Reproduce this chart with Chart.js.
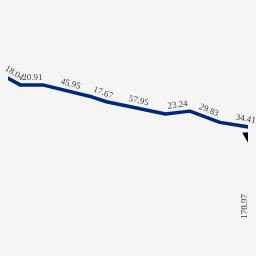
<!DOCTYPE html>
<html>
<head>
<meta charset="utf-8">
<script src="https://cdn.jsdelivr.net/npm/chart.js@4/dist/chart.umd.min.js"></script>
<style>
  html, body { margin: 0; padding: 0; background: #f5f5f5; }
  canvas { display: block; }
</style>
</head>
<body>
<canvas id="routeChart" width="256" height="256"></canvas>
<script>
// route vertices
const routeX = [-10, 13, 37, 90, 105, 168, 194, 226, 276];
const routeY = [69.5, 82, 82, 95, 100, 113, 110, 122, 130];
// one label per segment
const segmentLabels = ["18.04", "20.91", "45.95", "17.67", "57.95", "23.24", "29.83", "34.41"];

// end marker
const markerX = [257];
const markerY = [137];
const markerLabels = ["170.97"];

const segmentLabelPlugin = {
  id: "segmentLabels",
  afterDatasetsDraw(chart) {
    const ctx = chart.ctx;
    ctx.save();
    ctx.font = "9px 'Liberation Serif', serif";
    ctx.fillStyle = "#3a3a3a";
    ctx.textAlign = "center";
    ctx.textBaseline = "bottom";

    const pts = chart.getDatasetMeta(0).data;
    for (let i = 0; i < pts.length - 1; i++) {
      const a = pts[i], b = pts[i + 1];
      const mx = (a.x + b.x) / 2, my = (a.y + b.y) / 2;
      ctx.save();
      ctx.translate(mx, my);
      ctx.rotate(Math.atan2(b.y - a.y, b.x - a.x) * 1.15);
      ctx.fillText(segmentLabels[i], 1, -3);
      ctx.restore();
    }

    const marks = chart.getDatasetMeta(1).data;
    marks.forEach((p, i) => {
      ctx.save();
      ctx.translate(p.x - 4, p.y + 70);
      ctx.rotate(-Math.PI / 2);
      ctx.textBaseline = "middle";
      ctx.fillText(markerLabels[i], 0, 0);
      ctx.restore();
    });
    ctx.restore();
  }
};

const ctx = document.getElementById("routeChart").getContext("2d");
const routeChart = new Chart(ctx, {
  type: "line",
  data: {
    datasets: [
      {
        data: routeX.map((x, i) => ({ x: x, y: routeY[i] })),
        borderColor: "#00287a",
        borderWidth: 3.5,
        borderJoinStyle: "round",
        pointRadius: 0,
        tension: 0,
        fill: false,
      },
      {
        data: markerX.map((x, i) => ({ x: x, y: markerY[i] })),
        showLine: false,
        pointStyle: "triangle",
        rotation: 180,
        pointRadius: 7,
        backgroundColor: "#000",
        borderColor: "#000",
        borderWidth: 1,
      },
    ],
  },
  options: {
    responsive: false,
    animation: false,
    layout: { padding: 0 },
    plugins: { legend: { display: false }, tooltip: { enabled: false } },
    scales: {
      x: { type: "linear", min: 0, max: 256, display: false },
      y: { type: "linear", min: 0, max: 256, reverse: true, display: false },
    },
  },
  plugins: [segmentLabelPlugin],
});
</script>
</body>
</html>
